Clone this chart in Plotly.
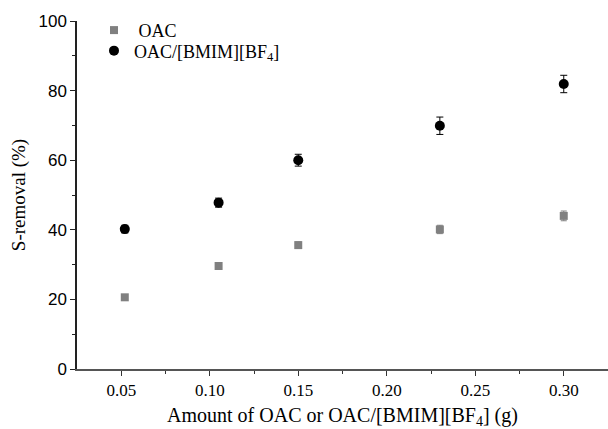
import plotly.graph_objects as go

amount = [0.052, 0.105, 0.15, 0.23, 0.30]
oac = [20.6, 29.6, 35.6, 40.1, 44.0]
oac_err = [0.6, 0.7, 0.9, 1.2, 1.4]
ionic = [40.2, 47.8, 60.0, 69.9, 81.9]
ionic_err = [1.1, 1.3, 1.7, 2.5, 2.5]

SERIF = "Times New Roman, Liberation Serif, serif"
SANS = "Arial, Liberation Sans, sans-serif"

fig = go.Figure()
fig.add_trace(go.Scatter(
    x=amount, y=oac, mode="markers", name="&nbsp;OAC", legend="legend",
    marker=dict(symbol="square", size=8, color="#808080"),
    error_y=dict(type="data", array=oac_err, color="#808080", thickness=1, width=3),
))
fig.add_trace(go.Scatter(
    x=amount, y=ionic, mode="markers", name="OAC/[BMIM][BF<sub>4</sub>]", legend="legend2",
    marker=dict(symbol="circle", size=10, color="black"),
    error_y=dict(type="data", array=ionic_err, color="black", thickness=1, width=3.5),
))

leg_common = dict(xanchor="left", yanchor="middle", bgcolor="rgba(0,0,0,0)",
                  font=dict(family=SERIF, size=18, color="black"), itemwidth=30)

fig.update_layout(
    width=608, height=429,
    margin=dict(l=77, r=0, t=21, b=60),
    paper_bgcolor="white", plot_bgcolor="white",
    showlegend=True,
    legend=dict(x=0.032, y=0.973, **leg_common),
    legend2=dict(x=0.032, y=0.914, **leg_common),
    xaxis=dict(range=[0.025, 0.325], tickvals=[0.05, 0.10, 0.15, 0.20, 0.25, 0.30],
               ticktext=["0.05", "0.10", "0.15", "0.20", "0.25", "0.30"],
               ticks="outside", ticklen=5, tickwidth=1, tickcolor="#333",
               minor=dict(tickvals=[0.075, 0.125, 0.175, 0.225, 0.275], ticks="outside",
                          ticklen=3, tickcolor="#333"),
               showline=True, linecolor="#555", linewidth=1.5, showgrid=False, zeroline=False,
               tickfont=dict(family=SERIF, size=17, color="black"),
               title=dict(text="Amount of OAC or OAC/[BMIM][BF<sub>4</sub>] (g)",
                          font=dict(family=SERIF, size=20, color="black"),
                          standoff=10)),
    yaxis=dict(range=[0, 100], tickvals=[0, 20, 40, 60, 80, 100],
               ticks="outside", ticklen=5, tickwidth=1, tickcolor="#222",
               minor=dict(tickvals=[10, 30, 50, 70, 90], ticks="outside",
                          ticklen=3, tickcolor="#222"),
               showline=True, linecolor="#222", linewidth=1.5, showgrid=False, zeroline=False,
               tickfont=dict(family=SANS, size=17, color="black"),
               title=dict(text="S-removal (%)",
                          font=dict(family=SERIF, size=19, color="black"),
                          standoff=8)),
)

fig.write_html("out.html")
